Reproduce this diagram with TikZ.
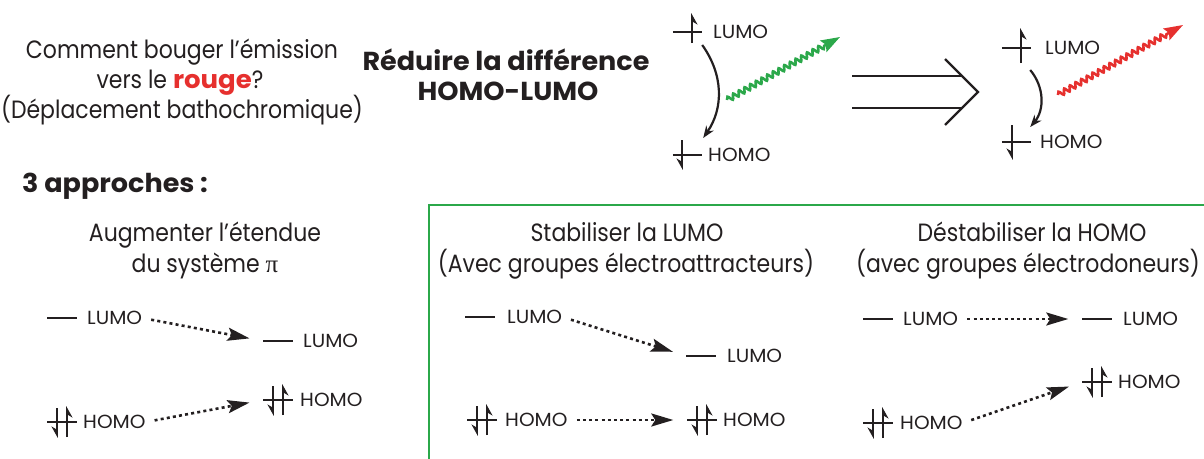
\documentclass[tikz,border=0pt]{standalone}
\usepackage{fontspec}
\setmainfont{Poppins}[FakeStretch=0.88]
\newfontfamily\heavy{Poppins}[FakeStretch=1.04]
\newfontfamily\lbfont{Poppins}[FakeStretch=1.05]
\newfontfamily\pifont{Liberation Serif}
\usetikzlibrary{arrows.meta,decorations.pathmorphing,calc}

\definecolor{ink}{HTML}{231F20}
\definecolor{redA}{HTML}{E6302E}
\definecolor{greenA}{HTML}{2BA84A}

\tikzset{
  every node/.style={text=ink, inner sep=0pt},
  big/.style={font=\fontsize{25}{30}\selectfont, anchor=base},
  hd/.style={font=\heavy\bfseries\fontsize{26}{30}\selectfont, anchor=base},
  lab/.style={font=\lbfont\fontsize{19}{20}\selectfont, anchor=west},
  lvl/.style={minimum width=29pt, minimum height=0pt, inner sep=0pt},
  bar/.style={draw=ink, line width=2.6pt},
  spin/.style={draw=ink, line width=2.3pt, -{Stealth[harpoon,swap,length=10pt,width=11pt]}},
  shiftarrow/.style={draw=ink, line width=2.6pt, dash pattern=on 3pt off 3.2pt,
    shorten <=9pt, shorten >=14pt, -{Stealth[length=22pt,width=13pt,inset=4pt]}},
  curv/.style={draw=ink, line width=2.2pt, -{Stealth[length=12pt,width=9pt]}},
  wave/.style={line width=2.6pt, decorate,
    decoration={snake, amplitude=2.6pt, segment length=6.5pt, post length=17pt},
    -{Stealth[length=19pt,width=13pt,inset=3pt]}},
  implies/.style={draw=ink, line width=2.3pt},
  frame/.style={draw=greenA, line width=2.4pt},
}

% energy level bar
\newcommand\lvlbar[3]{%
  \node[lvl] (#1) at (#2,#3) {};
  \draw[bar] (#1.west) -- (#1.east);}
% single electron, spin up / spin down
\newcommand\eup[4]{\draw[spin] ($(#1)+(#2,#3)$) -- ($(#1)+(#2,#4)$);}
% electron pair
\newcommand\epair[1]{%
  \draw[spin] ($(#1)+(-5,-14)$) -- ($(#1)+(-5,16)$);
  \draw[spin] ($(#1)+(5,15)$) -- ($(#1)+(5,-16)$);}

\begin{document}
\begin{tikzpicture}[x=1pt,y=-1pt]
\useasboundingbox (0,0) rectangle (1204,458);

% question
\node[big] (q1) at (182,58) {Comment bouger l’émission};
\node[big] (q2) at (180,88) {vers le {\heavy\bfseries\color{redA}rouge}?};
\node[big] (q3) at (182,118) {(Déplacement bathochromique)};

\node[hd] (r1) at (506,70) {Réduire la différence};
\node[hd] (r2) at (508,100) {HOMO-LUMO};

\node[hd, anchor=base west] (ap) at (22,192) {3 approches :};

% transition before
\lvlbar{aL}{687.5}{32}
\eup{aL}{4.5}{11}{-19}
\node[lab] (aLt) at (713,32) {LUMO};
\lvlbar{aH}{687.5}{155}
\eup{aH}{-5.5}{-15}{15}
\node[lab] (aHt) at (708,155) {HOMO};
\draw[curv] ($(aL.east)+(0,13)$) to[bend left=35] ($(aH.east)+(1,-17)$);
\coordinate (gw0) at (727,100);
\coordinate (gw1) at (840,37);
\draw[wave, greenA] (gw0) -- (gw1);

% implies arrow
\coordinate (imp) at (978,92);
\draw[implies] ($(imp)+(-126,-16)$) -- ($(imp)+(-16,-16)$);
\draw[implies] ($(imp)+(-126,16)$) -- ($(imp)+(-16,16)$);
\draw[implies, line join=miter] ($(imp)+(-33,-33)$) -- (imp) -- ($(imp)+(-33,33)$);

% transition after
\lvlbar{bL}{1016.5}{48}
\eup{bL}{4.5}{15}{-20}
\node[lab] (bLt) at (1045,48) {LUMO};
\lvlbar{bH}{1016.5}{142}
\eup{bH}{-4.5}{-17}{18}
\node[lab] (bHt) at (1040,142) {HOMO};
\draw[curv] ($(bL.east)+(-1,22)$) to[bend left=40] ($(bH.east)+(-1,-15)$);
\coordinate (rw0) at (1058,95);
\coordinate (rw1) at (1183,25);
\draw[wave, redA] (rw0) -- (rw1);

% green frame
\draw[frame] (429,462) |- (1208,205);

% approach 1
\node[big] (t1a) at (205,241) {Augmenter l’étendue};
\node[big] (t1b) at (205,272) {du système {\pifont π}};
\lvlbar{c1}{62}{318}
\node[lab] (c1t) at (87,318) {LUMO};
\lvlbar{c2}{278}{341}
\node[lab] (c2t) at (303,341) {LUMO};
\lvlbar{c3}{62}{422}
\epair{c3}
\node[lab] (c3t) at (83,422) {HOMO};
\lvlbar{c4}{278}{400}
\epair{c4}
\node[lab] (c4t) at (300,400) {HOMO};
\draw[shiftarrow] (c1t.east) -- (c2.west);
\draw[shiftarrow] (c3t.east) -- (c4.west);

% approach 2
\node[big] (t2a) at (627,241) {Stabiliser la LUMO};
\node[big] (t2b) at (626,272) {(Avec groupes électroattracteurs)};
\lvlbar{d1}{480}{317}
\node[lab] (d1t) at (507,317) {LUMO};
\lvlbar{d2}{701}{356}
\node[lab] (d2t) at (727,356) {LUMO};
\lvlbar{d3}{482}{420}
\epair{d3}
\node[lab] (d3t) at (505,420) {HOMO};
\lvlbar{d4}{702}{420}
\epair{d4}
\node[lab] (d4t) at (723,420) {HOMO};
\draw[shiftarrow] (d1t.east) -- (d2.west);
\draw[shiftarrow] (d3t.east) -- (d4.west);

% approach 3
\node[big] (t3a) at (1032,241) {Déstabiliser la HOMO};
\node[big] (t3b) at (1028,272) {(avec groupes électrodoneurs)};
\lvlbar{e1}{878}{319}
\node[lab] (e1t) at (903,319) {LUMO};
\lvlbar{e2}{1097}{319}
\node[lab] (e2t) at (1123,319) {LUMO};
\lvlbar{e3}{878}{423}
\epair{e3}
\node[lab] (e3t) at (900,423) {HOMO};
\lvlbar{e4}{1097}{382}
\epair{e4}
\node[lab] (e4t) at (1118,382) {HOMO};
\draw[shiftarrow] (e1t.east) -- (e2.west);
\draw[shiftarrow] (e3t.east) -- (e4.west);

\end{tikzpicture}
\end{document}
